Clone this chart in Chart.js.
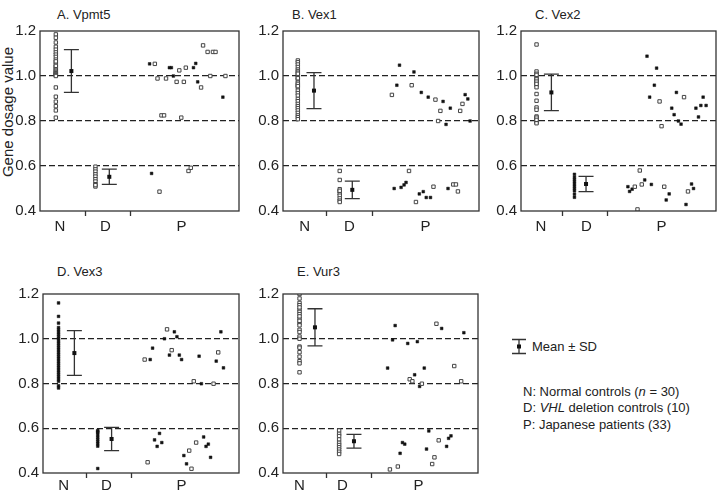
<!DOCTYPE html>
<html>
<head>
<meta charset="utf-8">
<script src="https://cdn.jsdelivr.net/npm/chart.js@4.4.1/dist/chart.umd.min.js"></script>
<style>
  body { margin: 0; width: 720px; height: 490px; background: #fff; position: relative; overflow: hidden;
         font-family: "Liberation Sans", Arial, sans-serif; color: #222; }
  canvas { position: absolute; }
  .txt { position: absolute; font-size: 13px; line-height: 16px; white-space: nowrap; }
</style>
</head>
<body>

<div class="txt" style="left:57px;top:7px">A. Vpmt5</div>
<div class="txt" style="left:292px;top:7px">B. Vex1</div>
<div class="txt" style="left:535px;top:7px">C. Vex2</div>
<div class="txt" style="left:57px;top:264px">D. Vex3</div>
<div class="txt" style="left:297px;top:264px">E. Vur3</div>
<div class="txt" style="left:8px;top:112px;font-size:15px;transform:translate(-50%,-50%) rotate(-90deg)">Gene dosage value</div>

<svg style="position:absolute;left:510px;top:338px" width="18" height="18">
  <path d="M2 1.5H16M2 15.5H16M9 1.5V15.5" stroke="#333" stroke-width="1.3" fill="none"/>
  <rect x="7" y="6.5" width="4" height="4" fill="#111"/>
</svg>
<div class="txt" style="left:532px;top:339px">Mean ± SD</div>
<div class="txt" style="left:523px;top:384px">N: Normal controls (<i>n</i> = 30)</div>
<div class="txt" style="left:523px;top:400px">D: <i>VHL</i> deletion controls (10)</div>
<div class="txt" style="left:523px;top:417px">P: Japanese patients (33)</div>

<script>
// category axis labels
const catLabels = ['N', 'D', 'P'];

// A. Vpmt5
const vpmt5N = [1.185, 1.17, 1.149, 1.13, 1.117, 1.105, 1.095, 1.085, 1.073, 1.061, 1.051, 1.041, 1.035, 1.029,
  1.024, 1.019, 1.015, 1.012, 1.009, 1.006, 1.003, 1.0, 0.949, 0.908, 0.886, 0.866, 0.847, 0.815, 1.045, 1.065];
const vpmt5D = [0.597, 0.585, 0.575, 0.563, 0.553, 0.541, 0.531, 0.519, 0.509, 0.515];
const vpmt5Open = [[11.6, 1.054], [11.87, 0.989], [12.27, 0.825], [12.53, 0.825], [12.73, 0.989], [13.8, 0.974],
  [14.07, 1.025], [14.27, 0.815], [14.53, 0.974], [14.73, 1.037], [16.27, 0.949], [16.47, 1.136], [16.93, 1.107],
  [17.2, 1.0], [17.47, 1.107], [17.73, 1.107], [18.73, 1.0], [12.07, 0.486], [15.0, 0.578], [15.23, 0.592]];
const vpmt5Filled = [[11.07, 1.054], [13.07, 1.037], [13.27, 1.037], [13.47, 1.0], [15.5, 1.037], [15.73, 1.056],
  [15.93, 0.974], [18.47, 0.906], [11.27, 0.567]];
const vpmt5Mean = [1.022, 0.552];
const vpmt5SD = [0.095, 0.034];

// B. Vex1
const vex1N = [1.069, 1.061, 1.051, 1.04, 1.029, 1.022, 1.015, 1.003, 0.993, 0.983, 0.971, 0.959, 0.949, 0.935,
  0.924, 0.913, 0.898, 0.888, 0.876, 0.866, 0.857, 0.847, 0.836, 0.825, 0.817, 0.808, 0.99, 0.965, 1.01, 0.955];
const vex1D = [0.578, 0.538, 0.497, 0.487, 0.478, 0.468, 0.456, 0.446, 0.44, 0.49];
const vex1Open = [[11.0, 0.916], [13.0, 0.959], [15.4, 0.895], [15.67, 0.8], [15.9, 0.845], [17.9, 0.845],
  [18.13, 0.876], [12.73, 0.578], [13.43, 0.44], [15.2, 0.508], [17.2, 0.518], [17.47, 0.518], [17.67, 0.487]];
const vex1Filled = [[11.5, 0.959], [11.77, 1.048], [13.23, 1.018], [13.97, 0.927], [14.67, 0.906], [16.17, 0.887],
  [16.47, 0.785], [16.9, 0.857], [18.4, 0.917], [18.67, 0.898], [18.9, 0.8], [11.23, 0.5], [11.93, 0.505],
  [12.23, 0.516], [12.43, 0.527], [13.77, 0.476], [14.17, 0.486], [14.47, 0.46], [14.9, 0.46], [16.67, 0.5]];
const vex1Mean = [0.935, 0.494];
const vex1SD = [0.08, 0.039];

// C. Vex2
const vex2N = [1.14, 1.02, 1.01, 1.0, 0.99, 0.98, 0.97, 0.96, 0.95, 0.92, 0.89, 0.86, 0.85, 0.82, 0.81, 0.8,
  0.795, 0.79, 1.005, 0.985, 0.975, 0.965, 0.815, 0.805];
const vex2D = [0.563, 0.55, 0.54, 0.53, 0.52, 0.51, 0.5, 0.49, 0.475, 0.461];
const vex2Open = [[14.0, 0.887], [14.2, 0.777], [16.47, 0.906], [11.5, 0.508], [11.77, 0.407], [12.0, 0.58],
  [12.2, 0.518], [14.47, 0.508], [16.87, 0.487]];
const vex2Filled = [[12.73, 1.088], [13.0, 0.906], [13.47, 0.959], [13.7, 1.035], [15.23, 0.857], [15.47, 0.828],
  [15.7, 0.927], [15.9, 0.8], [16.17, 0.786], [17.67, 0.857], [17.93, 0.818], [18.17, 0.869], [18.4, 0.906],
  [18.7, 0.869], [10.8, 0.508], [10.97, 0.487], [11.23, 0.497], [12.5, 0.538], [13.17, 0.518], [14.67, 0.449],
  [14.97, 0.476], [16.67, 0.429], [17.23, 0.52], [17.43, 0.5]];
const vex2Mean = [0.927, 0.52];
const vex2SD = [0.081, 0.034];

// D. Vex3
const vex3N = [1.16, 1.1, 1.07, 1.05, 1.04, 1.03, 1.02, 1.01, 1.0, 0.99, 0.98, 0.97, 0.96, 0.95, 0.94, 0.93,
  0.92, 0.91, 0.9, 0.89, 0.88, 0.87, 0.86, 0.85, 0.84, 0.83, 0.82, 0.81, 0.79, 0.78];
const vex3D = [0.59, 0.585, 0.58, 0.57, 0.56, 0.55, 0.54, 0.53, 0.52, 0.42];
const vex3Open = [[10.27, 0.907], [12.53, 1.042], [13.0, 0.949], [15.23, 0.81], [17.23, 0.799], [17.7, 0.939],
  [10.57, 0.448], [14.77, 0.5], [15.0, 0.419], [15.47, 0.536]];
const vex3Filled = [[10.83, 0.907], [11.07, 0.958], [12.27, 1.0], [12.77, 0.927], [13.27, 1.031], [13.53, 1.009],
  [13.77, 0.927], [14.0, 0.907], [15.77, 0.922], [16.0, 0.799], [17.5, 0.9], [17.97, 1.031], [18.23, 0.87],
  [11.27, 0.548], [11.53, 0.519], [11.77, 0.577], [12.0, 0.536], [14.23, 0.478], [14.5, 0.441], [16.23, 0.561],
  [16.47, 0.519], [16.7, 0.529], [16.93, 0.47]];
const vex3Mean = [0.936, 0.552];
const vex3SD = [0.1, 0.052];

// E. Vur3
const vur3N = [1.2, 1.18, 1.16, 1.15, 1.13, 1.12, 1.11, 1.09, 1.07, 1.06, 1.04, 1.03, 1.01, 1.0, 0.965, 0.96,
  0.94, 0.92, 0.9, 0.89, 0.85, 1.08, 1.1, 1.14];
const vur3D = [0.59, 0.575, 0.565, 0.55, 0.535, 0.525, 0.515, 0.505, 0.495, 0.485];
const vur3Open = [[12.8, 0.819], [13.07, 0.81], [14.03, 0.799], [15.5, 1.067], [17.3, 0.878], [18.0, 0.81],
  [10.8, 0.416], [11.6, 0.429], [15.07, 0.44], [15.3, 0.47], [15.73, 0.546]];
const vur3Filled = [[10.57, 0.869], [11.07, 0.995], [11.33, 1.059], [12.6, 0.979], [13.3, 0.839], [13.57, 0.987],
  [13.8, 0.787], [14.27, 0.869], [16.03, 1.046], [18.27, 1.027], [11.83, 0.488], [12.07, 0.536], [12.3, 0.529],
  [14.5, 0.507], [14.73, 0.588], [16.53, 0.519], [16.73, 0.555], [16.97, 0.566]];
const vur3Mean = [1.051, 0.542];
const vur3SD = [0.083, 0.031];

// layout of each panel: plot box in page px, label/tick positions and column positions in x units
const panels = [
  { N: vpmt5N, D: vpmt5D, open: vpmt5Open, filled: vpmt5Filled, mean: vpmt5Mean, sd: vpmt5SD, labelPad: 2,
    box: [40, 28, 201, 183], cats: [2.0, 6.6, 14.3], seps: [4.6, 9.1], col: [1.6, 5.6], bar: [3.17, 7.0], fillN: false, fillD: false },
  { N: vex1N, D: vex1D, open: vex1Open, filled: vex1Filled, mean: vex1Mean, sd: vex1SD, labelPad: 2,
    box: [283, 28, 198, 183], cats: [2.2, 6.7, 14.4], seps: [4.4, 9.0], col: [1.5, 5.73], bar: [3.13, 7.0], fillN: false, fillD: false },
  { N: vex2N, D: vex2D, open: vex2Open, filled: vex2Filled, mean: vex2Mean, sd: vex2SD, labelPad: 2,
    box: [521, 28, 197, 183], cats: [2.0, 6.6, 14.2], seps: [4.2, 8.7], col: [1.57, 5.4], bar: [3.07, 6.57], fillN: false, fillD: true },
  { N: vex3N, D: vex3D, open: vex3Open, filled: vex3Filled, mean: vex3Mean, sd: vex3SD, labelPad: -1,
    box: [43, 291, 198, 182], cats: [2.1, 6.4, 14.0], seps: [4.4, 8.9], col: [1.57, 5.53], bar: [3.17, 6.93], fillN: true, fillD: true },
  { N: vur3N, D: vur3D, open: vur3Open, filled: vur3Filled, mean: vur3Mean, sd: vur3SD, labelPad: -1,
    box: [283, 291, 197, 182], cats: [1.65, 6.0, 13.7], seps: [4.4, 8.9], col: [1.67, 5.67], bar: [3.23, 7.17], fillN: false, fillD: false }
];

const openStyle = { pointStyle: 'rect', pointRadius: 2.4, backgroundColor: '#fff', borderColor: '#444', borderWidth: 1 };
const fillStyle = { pointStyle: 'rect', pointRadius: 1.9, backgroundColor: '#111', borderColor: '#111', borderWidth: 0.5 };

const boxPlugin = {
  id: 'box',
  afterDraw(chart) {
    const { ctx, chartArea: a } = chart;
    ctx.save();
    ctx.strokeStyle = '#333';
    ctx.lineWidth = 1.3;
    ctx.strokeRect(a.left, a.top, a.right - a.left, a.bottom - a.top);
    ctx.restore();
  }
};

function errorBars(p) {
  return {
    id: 'errorBars',
    afterDatasetsDraw(chart) {
      const { ctx, scales: { x, y } } = chart;
      ctx.save();
      ctx.strokeStyle = '#333';
      ctx.fillStyle = '#111';
      ctx.lineWidth = 1.3;
      p.mean.forEach((m, i) => {
        const px = x.getPixelForValue(p.bar[i]);
        const top = y.getPixelForValue(m + p.sd[i]);
        const bot = y.getPixelForValue(m - p.sd[i]);
        const my = y.getPixelForValue(m);
        ctx.beginPath();
        ctx.moveTo(px, top); ctx.lineTo(px, bot);
        ctx.moveTo(px - 7.5, top); ctx.lineTo(px + 7.5, top);
        ctx.moveTo(px - 7.5, bot); ctx.lineTo(px + 7.5, bot);
        ctx.stroke();
        ctx.fillRect(px - 2, my - 2, 4, 4);
      });
      ctx.restore();
    }
  };
}

panels.forEach(p => {
  const [left, top, w, h] = p.box;
  const canvas = document.createElement('canvas');
  canvas.width = w + 43;
  canvas.height = h + 40;
  canvas.style.left = (left - 40) + 'px';
  canvas.style.top = (top - 10) + 'px';
  document.body.appendChild(canvas);

  const tickPos = [...p.cats, ...p.seps].sort((a, b) => a - b);

  new Chart(canvas.getContext('2d'), {
    type: 'scatter',
    data: {
      datasets: [
        { data: p.N.map(v => ({ x: p.col[0], y: v })), ...(p.fillN ? fillStyle : openStyle) },
        { data: p.D.map(v => ({ x: p.col[1], y: v })), ...(p.fillD ? fillStyle : openStyle) },
        { data: p.open.map(([x, y]) => ({ x, y })), ...openStyle },
        { data: p.filled.map(([x, y]) => ({ x, y })), ...fillStyle }
      ]
    },
    options: {
      responsive: false,
      animation: false,
      layout: { padding: { top: 10, right: 3, left: 0, bottom: 0 } },
      plugins: { legend: { display: false }, tooltip: { enabled: false } },
      scales: {
        x: {
          type: 'linear',
          min: 0,
          max: w / 10,
          afterBuildTicks: s => { s.ticks = tickPos.map(v => ({ value: v })); },
          afterFit: s => { s.height = 30; },
          ticks: {
            autoSkip: false, maxRotation: 0, padding: p.labelPad, color: '#222',
            font: { family: 'Liberation Sans', size: 15 },
            callback: v => { const i = p.cats.indexOf(v); return i >= 0 ? catLabels[i] : ''; }
          },
          grid: {
            drawOnChartArea: false, drawTicks: true, tickLength: 5, tickWidth: 1.3,
            tickColor: c => p.cats.includes(c.tick.value) ? 'rgba(0,0,0,0)' : '#333'
          },
          border: { display: false }
        },
        y: {
          min: 0.4,
          max: 1.2,
          afterFit: s => { s.width = 40; },
          ticks: {
            stepSize: 0.2, padding: 4, color: '#222',
            font: { family: 'Liberation Sans', size: 15 },
            callback: v => v.toFixed(1)
          },
          grid: {
            drawTicks: false, lineWidth: 1.2,
            color: c => (c.tick.value > 0.5 && c.tick.value < 1.1) ? '#222' : 'rgba(0,0,0,0)'
          },
          border: { display: false, dash: [6, 3] }
        }
      }
    },
    plugins: [boxPlugin, errorBars(p)]
  });
});
</script>
</body>
</html>
